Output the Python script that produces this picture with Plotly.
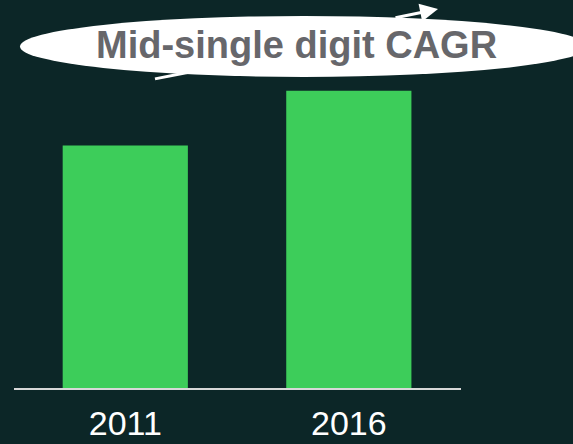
import plotly.graph_objects as go

years = ["2011", "2016"]
values = [100, 122.6]
callout = "Mid-single digit CAGR"

W, H = 573, 444
base_px = 388.5  # pixel y of baseline
bottom_margin = H - base_px

def px(x):
    return x / W

def py(y):
    return (base_px - y) / base_px

fig = go.Figure()
fig.add_trace(go.Bar(
    x=years, y=values,
    marker=dict(color="#3dcd5a", line=dict(width=0)),
    width=0.56,
))

fig.update_layout(
    width=W, height=H,
    margin=dict(l=0, r=0, t=0, b=bottom_margin, pad=0, autoexpand=False),
    paper_bgcolor="#0c2627",
    plot_bgcolor="rgba(0,0,0,0)",
    showlegend=False,
    xaxis=dict(
        domain=[13.5 / W, 460.6 / W],
        range=[-0.5, 1.5],
        automargin=False,
        showline=True, linecolor="#d8d8d8", linewidth=2,
        showgrid=False, zeroline=False,
        ticks="", ticklabelstandoff=4,
        tickfont=dict(family="Arial, Liberation Sans", size=34, color="white"),
    ),
    yaxis=dict(
        range=[0, 160], visible=False, showgrid=False, zeroline=False,
        automargin=False,
    ),
    shapes=[
        dict(type="line", xref="paper", yref="paper",
             x0=px(155), y0=py(79), x1=px(190), y1=py(72),
             line=dict(color="white", width=3)),
        dict(type="circle", xref="paper", yref="paper",
             x0=px(20), x1=px(588), y0=py(77), y1=py(16),
             fillcolor="white", line=dict(width=0), layer="above"),
    ],
    annotations=[
        dict(xref="paper", yref="paper", x=px(438), y=py(9),
             ax=-44, ay=9, text="", showarrow=True,
             arrowhead=2, arrowsize=1.2, arrowwidth=3, arrowcolor="white"),
        dict(xref="paper", yref="paper", x=px(296), y=py(45),
             text="<b>" + callout + "</b>", showarrow=False,
             font=dict(family="Arial, Liberation Sans", size=38, color="#67676b"),
             xanchor="center", yanchor="middle"),
    ],
)

fig.write_html("out.html")
